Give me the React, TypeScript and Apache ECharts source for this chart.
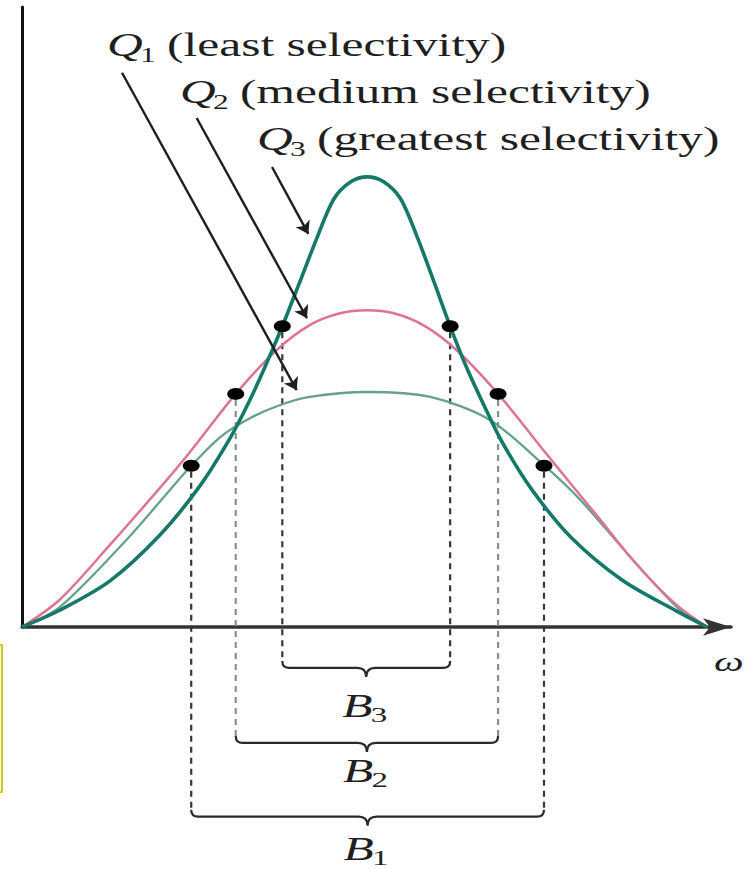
import React, { useEffect, useRef } from "react";
import * as echarts from "echarts";

// ---- curve data (ω in arbitrary units 0..100, response in % of axis height) ----
const q1X = [0, 5.5, 15.2, 21.6, 24.7, 28.9, 32.8, 37.2, 42.0, 50.4, 59.6, 68.3, 76.2, 81.5, 88.8, 96.1, 100];
const q1Y = [0, 3.2, 14.0, 22.1, 26.0, 30.6, 33.4, 35.6, 37.1, 37.9, 37.1, 33.4, 26.1, 20.5, 11.3, 2.7, 0];

const q2X = [0, 5.5, 12.8, 20.1, 24.5, 31.2, 37.2, 42.0, 46.4, 50.4, 54.3, 58.7, 63.5, 69.5, 76.5, 83.9, 89.8, 95.5, 100];
const q2Y = [0, 4.4, 13.2, 22.4, 28.2, 37.6, 44.7, 48.7, 50.6, 51.1, 50.6, 48.6, 44.6, 37.6, 28.0, 18.0, 10.0, 3.6, 0];

const q3X = [0, 5.5, 12.8, 20.1, 26.0, 30.4, 33.0, 35.5, 38.0, 40.5, 43.0, 45.5, 48.0, 50.4, 52.8, 55.3, 57.8, 60.2, 62.5, 65.0, 67.5, 70.0, 74.4, 80.2, 87.7, 95.5, 100];
const q3Y = [0, 2.7, 7.4, 14.8, 22.8, 30.5, 36.0, 42.0, 48.5, 55.5, 62.6, 69.0, 71.8, 72.6, 71.8, 69.0, 62.6, 55.5, 48.5, 41.6, 35.6, 30.0, 22.2, 14.4, 7.5, 2.6, 0];

// ---- half-power points and bandwidths (B1, B2, B3) ----
const bandNames = ["B", "B", "B"];
const bandSubs = ["1", "2", "3"];
const bandLower = [24.7, 31.2, 38.0];
const bandUpper = [76.2, 69.5, 62.5];
const halfPower = [26.0, 37.6, 48.5];
const braceLevel = [-30.6, -18.7, -6.6];
const braceLabelLevel = [-35.8, -23.2, -12.7];
const dashColors = ["#2e3b39", "#85918f", "#2e3b39"];

// ---- pointer arrows for the Q labels ----
const qSubs = ["1", "2", "3"];
const qTexts = ["(least selectivity)", "(medium selectivity)", "(greatest selectivity)"];
const arrowStart = [[14.6, 89.4], [25.5, 82.1], [36.5, 74.2]];
const arrowEnd = [[40.1, 38.2], [41.6, 49.8], [41.8, 63.4]];

const SERIF = '"Liberation Serif", "Times New Roman", serif';
const TEXT_COLOR = "#1f1f1f";

const pairs = (xs: number[], ys: number[]) => xs.map((x, i) => [x, ys[i]]);

function qLabel(i: number, left: number, cy: number) {
  return {
    type: "group",
    x: left,
    y: cy,
    scaleX: 1.5,
    children: [
      {
        type: "text",
        x: 0,
        y: 0,
        style: { text: "Q", font: `italic 33px ${SERIF}`, fill: TEXT_COLOR, verticalAlign: "middle", align: "left" },
      },
      {
        type: "text",
        x: 22,
        y: 10,
        style: { text: qSubs[i], font: `21px ${SERIF}`, fill: TEXT_COLOR, verticalAlign: "middle", align: "left" },
      },
      {
        type: "text",
        x: 40,
        y: 0,
        style: { text: qTexts[i], font: `33px ${SERIF}`, fill: TEXT_COLOR, verticalAlign: "middle", align: "left" },
      },
    ],
  };
}

export default function App() {
  const ref = useRef<HTMLDivElement>(null);

  useEffect(() => {
    const chart = echarts.init(ref.current!, null, { renderer: "svg" });

    const bandData = bandLower.map((lo, i) => [lo, bandUpper[i], halfPower[i], braceLevel[i], braceLabelLevel[i], i]);
    const dots: number[][] = [];
    bandLower.forEach((lo, i) => {
      dots.push([lo, halfPower[i]]);
      dots.push([bandUpper[i], halfPower[i]]);
    });

    const option: any = {
      animation: false,
      backgroundColor: "#ffffff",
      grid: { left: 22, right: 16, top: 7, bottom: 242, containLabel: false },
      xAxis: {
        type: "value",
        min: 0,
        max: 103.5,
        axisLine: {
          show: true,
          symbol: ["none", "arrow"],
          symbolSize: [13, 28],
          lineStyle: { color: "#333333", width: 3.5 },
        },
        axisTick: { show: false },
        axisLabel: { show: false },
        splitLine: { show: false },
      },
      yAxis: {
        type: "value",
        min: 0,
        max: 100,
        axisLine: { show: true, lineStyle: { color: "#111111", width: 3 } },
        axisTick: { show: false },
        axisLabel: { show: false },
        splitLine: { show: false },
      },
      series: [
        {
          type: "custom",
          name: "bands",
          clip: false,
          z: 1,
          data: bandData,
          renderItem: (params: any, api: any) => {
            const lo = api.value(0);
            const hi = api.value(1);
            const yd = api.value(2);
            const yb = api.value(3);
            const yl = api.value(4);
            const i = api.value(5);
            const pLo = api.coord([lo, yd]);
            const pHi = api.coord([hi, yd]);
            const bLo = api.coord([lo, yb]);
            const bHi = api.coord([hi, yb]);
            const lab = api.coord([(lo + hi) / 2, yl]);
            const y = bLo[1];
            const x1 = bLo[0];
            const x2 = bHi[0];
            const xm = (x1 + x2) / 2;
            const r = 7;
            const pathData =
              `M${x1} ${y - r} Q${x1} ${y} ${x1 + r} ${y} L${xm - 9} ${y} ` +
              `Q${xm} ${y} ${xm} ${y + 9} Q${xm} ${y} ${xm + 9} ${y} ` +
              `L${x2 - r} ${y} Q${x2} ${y} ${x2} ${y - r}`;
            const dashStyle = { stroke: dashColors[i], lineWidth: 2.2, lineDash: [6, 5], fill: "none" };
            return {
              type: "group",
              children: [
                { type: "line", shape: { x1: pLo[0], y1: pLo[1] + 6, x2: x1, y2: y - r }, style: dashStyle },
                { type: "line", shape: { x1: pHi[0], y1: pHi[1] + 6, x2: x2, y2: y - r }, style: dashStyle },
                { type: "path", shape: { pathData }, style: { stroke: "#2a2a2a", fill: "none", lineWidth: 2.2 } },
                {
                  type: "group",
                  x: lab[0] - 24,
                  y: lab[1],
                  scaleX: 1.5,
                  children: [
                    {
                      type: "text",
                      x: 0,
                      y: 0,
                      style: { text: bandNames[i], font: `italic 33px ${SERIF}`, fill: TEXT_COLOR, verticalAlign: "middle", align: "left" },
                    },
                    {
                      type: "text",
                      x: 19,
                      y: 9,
                      style: { text: bandSubs[i], font: `22px ${SERIF}`, fill: TEXT_COLOR, verticalAlign: "middle", align: "left" },
                    },
                  ],
                },
              ],
            };
          },
        },
        {
          type: "line",
          name: "Q1",
          data: pairs(q1X, q1Y),
          smooth: 0.3,
          showSymbol: false,
          lineStyle: { color: "#66a090", width: 2.3 },
          z: 2,
        },
        {
          type: "line",
          name: "Q2",
          data: pairs(q2X, q2Y),
          smooth: 0.3,
          showSymbol: false,
          lineStyle: { color: "#dc7492", width: 2.5 },
          z: 3,
        },
        {
          type: "line",
          name: "Q3",
          data: pairs(q3X, q3Y),
          smooth: 0.3,
          showSymbol: false,
          lineStyle: { color: "#15796a", width: 3.6 },
          z: 4,
        },
        {
          type: "scatter",
          name: "half-power",
          data: dots,
          symbol: "circle",
          symbolSize: [17, 12],
          itemStyle: { color: "#000000", opacity: 1 },
          z: 6,
        },
        {
          type: "lines",
          coordinateSystem: "cartesian2d",
          polyline: false,
          symbol: ["none", "arrow"],
          symbolSize: 12,
          lineStyle: { color: "#1e1e1e", width: 2.4, opacity: 1, curveness: 0 },
          data: arrowStart.map((s, i) => ({ coords: [s, arrowEnd[i]] })),
          z: 7,
        },
      ],
      graphic: [
        qLabel(0, 107, 45),
        qLabel(1, 180, 92),
        qLabel(2, 257, 139),
        {
          type: "group",
          x: 714,
          y: 662,
          scaleX: 1.5,
          children: [
            {
              type: "text",
              style: { text: "ω", font: `italic 28px ${SERIF}`, fill: TEXT_COLOR, verticalAlign: "middle", align: "left" },
            },
          ],
        },
        {
          type: "rect",
          shape: { x: -20, y: 645, width: 22, height: 147 },
          style: { fill: "none", stroke: "#cccc14", lineWidth: 2 },
        },
      ],
    };

    chart.setOption(option);
    return () => chart.dispose();
  }, []);

  return (
    <div
      ref={ref}
      style={{ position: "absolute", left: 0, top: 0, width: 747, height: 869, background: "#ffffff" }}
    />
  );
}
